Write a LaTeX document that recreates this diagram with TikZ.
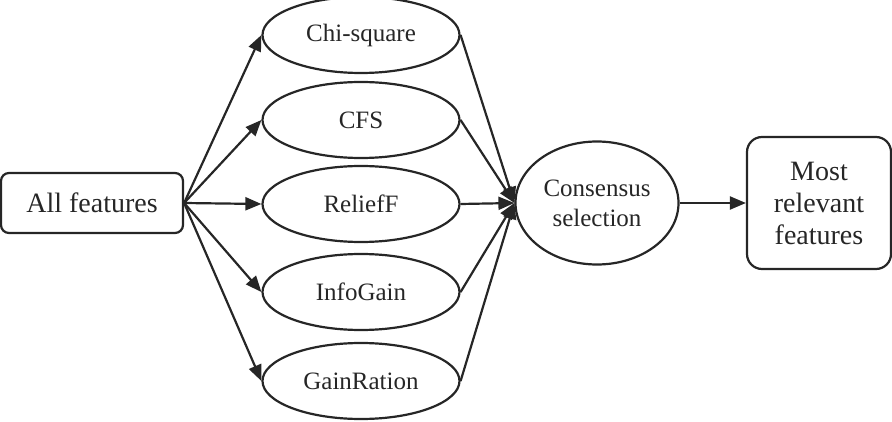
\documentclass[tikz,border=0pt]{standalone}
\usepackage{fontspec}
\setmainfont{Liberation Serif}
\usetikzlibrary{arrows.meta,shapes.geometric}
\definecolor{ink}{HTML}{262626}
\begin{document}
\begin{tikzpicture}[x=1pt,y=-1pt,
  ell/.style={ellipse,draw=ink,line width=2.2pt,minimum width=197pt,minimum height=76pt,inner sep=0pt,text=ink,font=\fontsize{25}{27}\selectfont},
  rbox/.style={rectangle,rounded corners=8pt,draw=ink,line width=2.2pt,inner sep=0pt,text=ink,font=\fontsize{28}{32}\selectfont,align=center},
  arr/.style={draw=ink,line width=2.2pt,-{Triangle[length=16pt,width=13pt]}}]
\useasboundingbox (0,0) rectangle (892,422);
\node[rbox,minimum width=182pt,minimum height=60pt] (all) at (92,203) {All features};
\node[ell] (chi) at (361,35) {Chi-square};
\node[ell] (cfs) at (361,120) {CFS};
\node[ell] (rel) at (361,204) {ReliefF};
\node[ell] (info) at (361,292) {InfoGain};
\node[ell] (gain) at (361,381) {GainRation};
\node[ellipse,draw=ink,line width=2.2pt,minimum width=163pt,minimum height=123pt,inner sep=0pt,text=ink,align=center,font=\fontsize{25}{30}\selectfont] (cons) at (597,203) {Consensus\\selection};
\node[rbox,rounded corners=15pt,minimum width=144pt,minimum height=132pt] (most) at (819,203) {Most\\relevant\\features};
\foreach \t in {chi,cfs,rel,info,gain}{
  \draw[arr] (all.east) -- (\t.west);
  \draw[arr] (\t.east) -- (cons.west);
}
\draw[arr] (cons.east) -- (most.west);
\end{tikzpicture}
\end{document}
